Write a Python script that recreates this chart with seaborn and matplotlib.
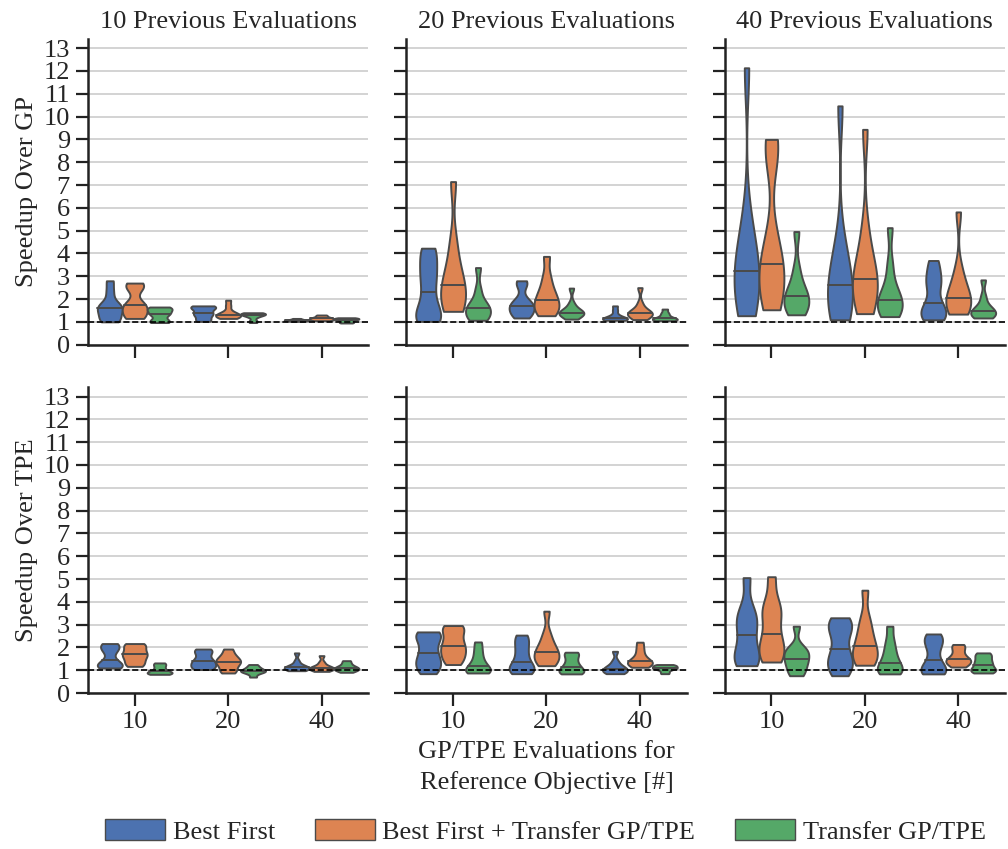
import numpy as np
import pandas as pd
import matplotlib
matplotlib.use("Agg")
import matplotlib.pyplot as plt
from matplotlib.patches import Patch
import seaborn as sns

# ---- data -----------------------------------------------------------------
EVALS = ["10", "20", "40"]                      # x categories
PREVIOUS = ["10", "20", "40"]                   # columns
METHODS = ["Best First", "Best First + Transfer GP/TPE", "Transfer GP/TPE"]
BASELINES = ["GP", "TPE"]                       # rows

# speedups over GP; each list holds the samples for x = 10, 20, 40
gp_prev10_bf = [[1.0, 1.1, 1.2, 1.5, 1.6, 1.65, 1.8, 2.3, 2.8],
                [1.02, 1.1, 1.25, 1.35, 1.4, 1.55, 1.62, 1.68, 1.7],
                [1.02, 1.04, 1.05, 1.06, 1.07, 1.08, 1.1, 1.12, 1.15]]
gp_prev10_bft = [[1.15, 1.25, 1.4, 1.6, 1.75, 1.8, 2.45, 2.6, 2.7],
                 [1.15, 1.2, 1.25, 1.28, 1.3, 1.35, 1.45, 1.7, 1.95],
                 [1.05, 1.08, 1.1, 1.12, 1.15, 1.17, 1.2, 1.25, 1.3]]
gp_prev10_t = [[0.97, 1.0, 1.1, 1.3, 1.35, 1.45, 1.55, 1.6, 1.65],
               [0.97, 1.05, 1.2, 1.28, 1.3, 1.33, 1.36, 1.38, 1.4],
               [0.95, 0.98, 1.02, 1.07, 1.1, 1.12, 1.14, 1.16, 1.18]]

gp_prev20_bf = [[1.02, 1.1, 1.3, 1.6, 2.29, 2.9, 3.3, 3.9, 4.23],
                [1.17, 1.3, 1.45, 1.6, 1.7, 1.8, 2.0, 2.6, 2.8],
                [1.07, 1.1, 1.12, 1.13, 1.15, 1.2, 1.3, 1.5, 1.7]]
gp_prev20_bft = [[1.46, 1.6, 1.9, 2.3, 2.6, 2.9, 3.5, 4.5, 7.15],
                 [1.27, 1.45, 1.6, 1.8, 1.97, 2.2, 2.5, 3.0, 3.87],
                 [1.1, 1.2, 1.3, 1.35, 1.39, 1.42, 1.5, 1.8, 2.5]]
gp_prev20_t = [[1.07, 1.15, 1.3, 1.45, 1.6, 1.7, 1.85, 2.4, 3.38],
               [1.12, 1.25, 1.35, 1.38, 1.39, 1.45, 1.55, 1.8, 2.48],
               [1.05, 1.08, 1.1, 1.12, 1.15, 1.2, 1.3, 1.4, 1.56]]

gp_prev40_bf = [[1.27, 1.6, 2.2, 2.8, 3.25, 3.7, 4.2, 5.5, 12.14],
                [1.09, 1.3, 1.6, 2.1, 2.63, 3.0, 3.5, 4.5, 10.47],
                [1.09, 1.2, 1.35, 1.6, 1.82, 2.5, 2.8, 3.2, 3.69]]
gp_prev40_bft = [[1.53, 1.9, 2.3, 2.8, 3.2, 3.53, 4.0, 4.8, 8.2, 8.7, 9.0],
                 [1.36, 1.8, 2.2, 2.6, 2.9, 3.2, 3.8, 5.0, 9.44],
                 [1.34, 1.5, 1.7, 1.9, 2.04, 2.3, 2.7, 3.3, 5.82]]
gp_prev40_t = [[1.31, 1.5, 1.7, 1.9, 2.12, 2.3, 2.6, 3.3, 4.96],
               [1.23, 1.4, 1.6, 1.8, 1.94, 2.2, 2.6, 3.5, 5.13],
               [1.17, 1.25, 1.3, 1.4, 1.46, 1.55, 1.7, 2.1, 2.84]]

# speedups over TPE
tpe_prev10_bf = [[1.1, 1.15, 1.2, 1.3, 1.45, 1.8, 1.95, 2.1, 2.17],
                 [1.03, 1.1, 1.2, 1.3, 1.39, 1.5, 1.7, 1.85, 1.93],
                 [0.98, 1.02, 1.05, 1.1, 1.13, 1.16, 1.2, 1.4, 1.76]]
tpe_prev10_bft = [[1.17, 1.3, 1.45, 1.6, 1.69, 1.8, 1.95, 2.1, 2.17],
                  [0.88, 1.0, 1.15, 1.3, 1.35, 1.45, 1.55, 1.7, 1.93],
                  [0.95, 1.0, 1.05, 1.08, 1.1, 1.13, 1.2, 1.35, 1.64]]
tpe_prev10_t = [[0.82, 0.85, 0.88, 0.92, 0.95, 1.05, 1.15, 1.25, 1.32],
                [0.7, 0.85, 0.92, 0.95, 0.98, 1.02, 1.08, 1.15, 1.25],
                [0.91, 0.98, 1.02, 1.06, 1.1, 1.14, 1.2, 1.3, 1.42]]

tpe_prev20_bf = [[0.85, 1.1, 1.3, 1.5, 1.76, 2.1, 2.4, 2.6, 2.68],
                 [0.85, 0.95, 1.05, 1.2, 1.38, 1.7, 2.0, 2.3, 2.54],
                 [0.85, 0.9, 0.95, 1.0, 1.07, 1.12, 1.2, 1.4, 1.83]]
tpe_prev20_bft = [[1.25, 1.5, 1.7, 1.9, 2.08, 2.3, 2.6, 2.85, 2.96],
                  [1.2, 1.35, 1.5, 1.65, 1.79, 1.95, 2.2, 2.6, 3.59],
                  [1.13, 1.2, 1.3, 1.35, 1.39, 1.5, 1.7, 1.95, 2.23]]
tpe_prev20_t = [[0.88, 0.92, 0.98, 1.05, 1.2, 1.35, 1.6, 1.9, 2.24],
                [0.84, 0.88, 0.95, 1.05, 1.15, 1.3, 1.5, 1.7, 1.79],
                [0.85, 0.95, 1.05, 1.08, 1.1, 1.15, 1.18, 1.22, 1.25]]

tpe_prev40_bf = [[1.2, 1.4, 1.6, 1.9, 2.54, 3.0, 3.3, 3.7, 5.06],
                 [0.76, 1.1, 1.3, 1.6, 1.93, 2.5, 2.8, 3.1, 3.3],
                 [0.84, 0.9, 1.0, 1.2, 1.44, 1.9, 2.2, 2.4, 2.59]]
tpe_prev40_bft = [[1.36, 1.6, 1.9, 2.2, 2.61, 3.3, 3.6, 4.0, 5.1],
                  [1.22, 1.4, 1.6, 1.85, 2.05, 2.4, 2.8, 3.3, 4.51],
                  [1.14, 1.25, 1.35, 1.42, 1.49, 1.6, 1.8, 2.0, 2.13]]
tpe_prev40_t = [[0.76, 0.95, 1.2, 1.4, 1.51, 1.75, 1.85, 2.0, 2.93],
                [0.84, 0.92, 1.0, 1.15, 1.32, 1.6, 1.9, 2.3, 2.93],
                [0.88, 0.95, 1.02, 1.1, 1.25, 1.35, 1.5, 1.65, 1.76]]

PANELS = {
    ("GP", "10"): [gp_prev10_bf, gp_prev10_bft, gp_prev10_t],
    ("GP", "20"): [gp_prev20_bf, gp_prev20_bft, gp_prev20_t],
    ("GP", "40"): [gp_prev40_bf, gp_prev40_bft, gp_prev40_t],
    ("TPE", "10"): [tpe_prev10_bf, tpe_prev10_bft, tpe_prev10_t],
    ("TPE", "20"): [tpe_prev20_bf, tpe_prev20_bft, tpe_prev20_t],
    ("TPE", "40"): [tpe_prev40_bf, tpe_prev40_bft, tpe_prev40_t],
}

# ---- style ----------------------------------------------------------------
sns.set_theme(style="ticks", palette="deep")
plt.rcParams["font.family"] = ["Liberation Serif", "DejaVu Serif"]
FS = 19
plt.rcParams["font.size"] = FS
palette = sns.color_palette("deep", 3)
EDGE = "#4a4a4a"
LW = 1.4


def span_at(verts, y):
    """Horizontal extent of a closed polygon at height y."""
    xs = []
    for (x0, y0), (x1, y1) in zip(verts[:-1], verts[1:]):
        if y0 == y1:
            continue
        if (y0 - y) * (y1 - y) <= 0:
            t = (y - y0) / (y1 - y0)
            xs.append(x0 + t * (x1 - x0))
    return (min(xs), max(xs)) if xs else (None, None)


fig, axes = plt.subplots(2, 3, figsize=(10.08, 8.49), dpi=100,
                         sharex=True, sharey=True)
fig.subplots_adjust(left=0.0873, right=0.997, top=0.954, bottom=0.1837,
                    wspace=0.136, hspace=0.14)

hue_width = 0.8 / len(METHODS)
for r, base in enumerate(BASELINES):
    for c, prev in enumerate(PREVIOUS):
        ax = axes[r, c]
        rows = []
        medians = {}
        for h, method in enumerate(METHODS):
            for xi, ev in enumerate(EVALS):
                vals = PANELS[(base, prev)][h][xi]
                medians[(xi, h)] = float(np.median(vals))
                rows += [{"evals": ev, "method": method, "speedup": v}
                         for v in vals]
        df = pd.DataFrame(rows)

        ax.yaxis.grid(True, color="#cccccc", lw=1.2, zorder=0)
        ax.set_axisbelow(True)
        sns.violinplot(data=df, x="evals", y="speedup", hue="method",
                       order=EVALS, hue_order=METHODS, palette=palette,
                       cut=0, inner=None, density_norm="width",
                       bw_adjust=0.65, linewidth=LW, linecolor=EDGE,
                       saturation=1, legend=False, ax=ax)

        # median line across each violin body
        for coll in list(ax.collections):
            paths = coll.get_paths()
            if not paths:
                continue
            verts = paths[0].vertices
            cx = (verts[:, 0].min() + verts[:, 0].max()) / 2
            xi = int(round(cx))
            h = int(round((cx - xi) / hue_width)) + 1
            m = medians.get((xi, h))
            if m is None:
                continue
            x0, x1 = span_at(verts, m)
            if x0 is not None:
                ax.plot([x0, x1], [m, m], color=EDGE, lw=LW, zorder=3)

        ax.axhline(1, color="black", ls="--", lw=1.2, zorder=4)

        ax.set_ylim(0, 13.4)
        ax.set_yticks(range(0, 14))
        ax.set_xlim(-0.5, 2.5)
        ax.set_xlabel("")
        ax.set_ylabel("")
        ax.tick_params(axis="both", length=9, width=1.6, labelsize=FS,
                       color="#222222", pad=4)
        for side in ("left", "bottom"):
            ax.spines[side].set_linewidth(1.8)
            ax.spines[side].set_color("#222222")
        sns.despine(ax=ax)

        if r == 0:
            ax.set_title(f"{prev} Previous Evaluations", fontsize=FS, pad=8)
        if c == 0:
            ax.set_ylabel(f"Speedup Over {base}", fontsize=FS, labelpad=4)

axes[1, 1].set_xlabel("GP/TPE Evaluations for\nReference Objective [#]",
                      fontsize=FS, labelpad=6, linespacing=1.4)

handles = [Patch(facecolor=palette[i], edgecolor=EDGE, lw=1.0, label=m)
           for i, m in enumerate(METHODS)]
fig.legend(handles=handles, loc="lower center", bbox_to_anchor=(0.541, -0.022),
           ncol=3, frameon=False, fontsize=FS, handlelength=2.27,
           handleheight=0.85, columnspacing=1.5, handletextpad=0.3)

fig.savefig("out.png", dpi=100)
